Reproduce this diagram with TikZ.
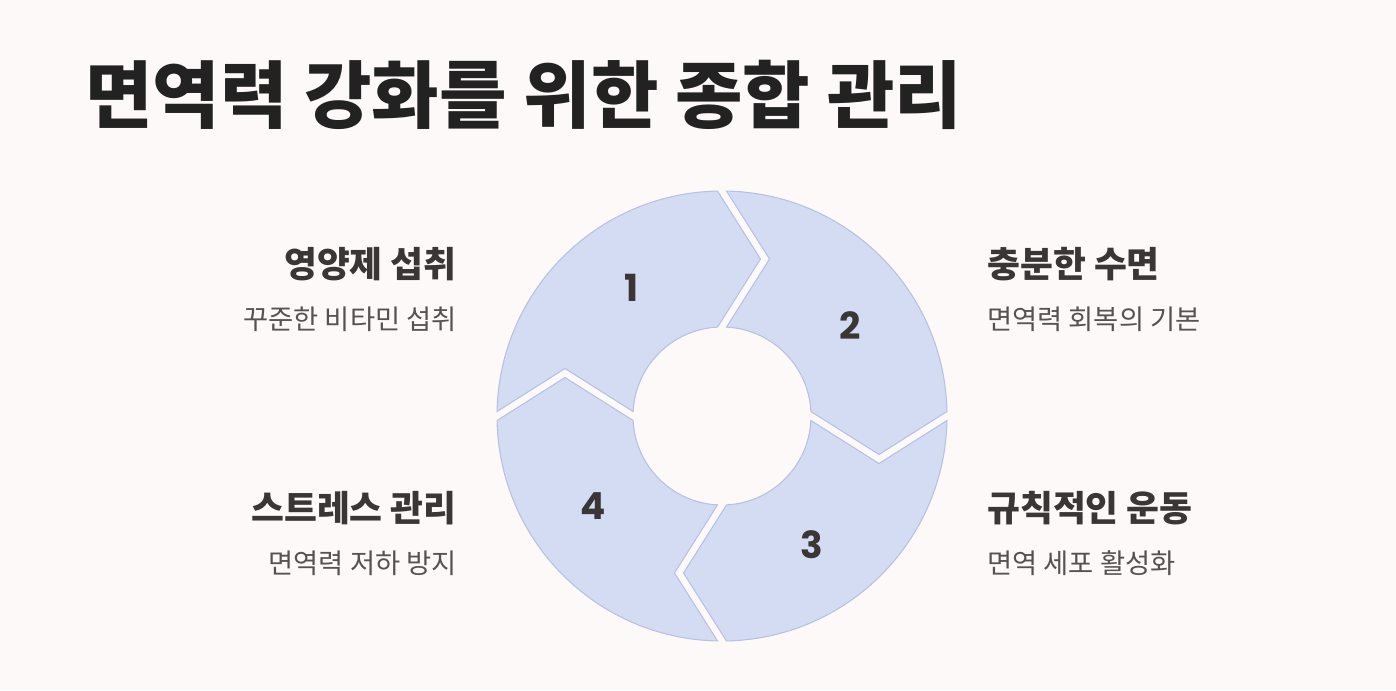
\documentclass[tikz,border=0pt]{standalone}
\usepackage{fontspec}
\setmainfont{Noto Sans CJK KR}
\newfontfamily\numfont{Poppins}
\usepackage{xcolor}
\usetikzlibrary{positioning}

\definecolor{bgcol}{HTML}{FDF9F8}
\definecolor{segfill}{HTML}{D4DCF4}
\definecolor{segline}{HTML}{B6C2E2}
\definecolor{titlecol}{HTML}{222222}
\definecolor{headcol}{HTML}{3A3636}
\definecolor{desccol}{HTML}{555252}

\begin{document}
\begin{tikzpicture}[
    x=0.75pt, y=0.75pt,
    seg/.style={fill=segfill, draw=segline, line width=0.8pt, line join=miter},
    num/.style={font=\numfont\bfseries\fontsize{28}{30}\selectfont,
                text=headcol, inner sep=0pt},
    ttl/.style={font=\bfseries\fontsize{55}{60}\selectfont,
                text=titlecol, inner sep=0pt},
    head/.style={font=\bfseries\fontsize{26.8}{30}\selectfont,
                 text=headcol, inner sep=0pt},
    desc/.style={font=\fontsize{20.5}{24}\selectfont,
                 text=desccol, inner sep=0pt},
  ]

  % ============ Canvas ============
  \fill[bgcol] (0,0) rectangle (1396,-690);
  \useasboundingbox (0,0) rectangle (1396,-690);

  % ============ Title ============
  \node[ttl, anchor=west] (title) at (85,-95) {면역력 강화를 위한 종합 관리};

  % ============ Ring ============
  \coordinate (c) at (722,-416);
  \def\Rout{225} \def\Rin{89} \def\Rmid{157}
  \def\Tip{43} \def\Half{4.5}
  \pgfmathsetmacro\ao{deg(\Half/\Rout)}
  \pgfmathsetmacro\ai{deg(\Half/\Rin)}

  % one arrow segment, turned a quarter clockwise each time
  \foreach \k in {0,1,2,3} {
    \begin{scope}[shift={(c)}, rotate=-90*\k]
      \draw[seg] (180-\ao:\Rout)
        arc[start angle=180-\ao, end angle=90+\ao, radius=\Rout]
        -- (\Tip-\Half,\Rmid)
        -- (90+\ai:\Rin)
        arc[start angle=90+\ai, end angle=180-\ai, radius=\Rin]
        -- (-\Rmid,\Tip+\Half) -- cycle;
    \end{scope}
  }

  \node[num] (n1) at ([shift={(125:157)}]c) {1};
  \node[num] (n2) at ([shift={(35:157)}]c) {2};
  \node[num] (n3) at ([shift={(-55:157)}]c) {3};
  \node[num] (n4) at ([shift={(-145:157)}]c) {4};

  % ============ Left labels ============
  \node[head, anchor=east] (h1) at (457,-264) {영양제 섭취};
  \node[desc, below left=19pt and 0pt of h1.south east] (d1) {꾸준한 비타민 섭취};

  \node[head, anchor=east] (h4) at (457,-508) {스트레스 관리};
  \node[desc, below left=19pt and 0pt of h4.south east] (d4) {면역력 저하 방지};

  % ============ Right labels ============
  \node[head, anchor=west] (h2) at (987,-264) {충분한 수면};
  \node[desc, below right=19pt and 0pt of h2.south west] (d2) {면역력 회복의 기본};

  \node[head, anchor=west] (h3) at (987,-508) {규칙적인 운동};
  \node[desc, below right=19pt and 0pt of h3.south west] (d3) {면역 세포 활성화};

\end{tikzpicture}
\end{document}
